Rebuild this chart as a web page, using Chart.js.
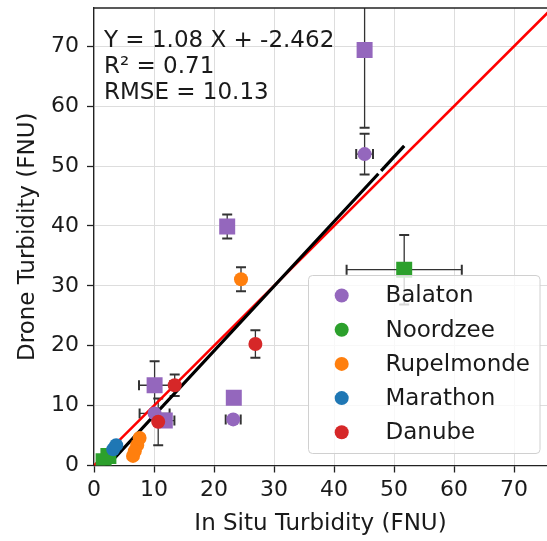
<!DOCTYPE html>
<html>
<head>
<meta charset="utf-8">
<script src="https://cdn.jsdelivr.net/npm/chart.js@4.4.1/dist/chart.umd.min.js"></script>
<style>
  html, body { margin: 0; padding: 0; background: #fff; }
  #wrap { width: 547px; height: 541px; }
</style>
</head>
<body>
<div id="wrap"><canvas id="turbidityChart" width="547" height="541"></canvas></div>
<script>
// Drone vs in situ turbidity, one series per site (x/y err are +/- half widths)
const siteNames = ['Balaton', 'Noordzee', 'Rupelmonde', 'Marathon', 'Danube'];
const siteColors = ['#9467bd', '#2ca02c', '#ff7f0e', '#1f77b4', '#d62728'];

const balatonX = [45.1, 45.1, 22.2, 10.1, 23.3, 23.2, 10.1, 11.8];
const balatonY = [69.4, 52.0, 39.9, 13.4, 11.3, 7.7, 8.7, 7.5];
const balatonXErr = [0, 1.4, 0.6, 2.6, 0, 1.25, 2.5, 1.6];
const balatonYErr = [13, 3.4, 2.0, 4.0, 0, 0.4, 0, 0];
const balatonShape = ['rect', 'circle', 'rect', 'rect', 'rect', 'circle', 'circle', 'rect'];

const noordzeeX = [51.7, 1.6, 2.4];
const noordzeeY = [32.7, 0.7, 1.6];
const noordzeeXErr = [9.6, 0, 0];
const noordzeeYErr = [5.8, 0, 0];
const noordzeeShape = ['rect', 'rect', 'rect'];

const rupelmondeX = [24.5, 7.6, 7.2, 6.8, 6.5];
const rupelmondeY = [31.1, 4.6, 3.4, 2.4, 1.6];
const rupelmondeXErr = [0, 0, 0, 0, 0];
const rupelmondeYErr = [2.0, 0, 0, 0, 0];
const rupelmondeShape = ['circle', 'circle', 'circle', 'circle', 'circle'];

const marathonX = [3.2, 3.7];
const marathonY = [2.7, 3.4];
const marathonXErr = [0, 0];
const marathonYErr = [0, 0];
const marathonShape = ['circle', 'circle'];

const danubeX = [26.9, 13.45, 10.7];
const danubeY = [20.3, 13.4, 7.3];
const danubeXErr = [0, 0, 0];
const danubeYErr = [2.3, 1.8, 3.9];
const danubeShape = ['circle', 'circle', 'circle'];

// fit reported on the figure
const fitSlope = 1.08;
const fitIntercept = -2.462;
const statLines = ['Y = 1.08 X + -2.462', 'R\u00b2 = 0.71', 'RMSE = 10.13'];

const tickValues = [0, 10, 20, 30, 40, 50, 60, 70];
const xMax = 75.5;
const yMax = 76.4;

const sites = [
    { x: balatonX, y: balatonY, xe: balatonXErr, ye: balatonYErr, shape: balatonShape },
    { x: noordzeeX, y: noordzeeY, xe: noordzeeXErr, ye: noordzeeYErr, shape: noordzeeShape },
    { x: rupelmondeX, y: rupelmondeY, xe: rupelmondeXErr, ye: rupelmondeYErr, shape: rupelmondeShape },
    { x: marathonX, y: marathonY, xe: marathonXErr, ye: marathonYErr, shape: marathonShape },
    { x: danubeX, y: danubeY, xe: danubeXErr, ye: danubeYErr, shape: danubeShape }
];

const FONT = "'DejaVu Sans', sans-serif";
const TEXT = '#1a1a1a';
Chart.defaults.font.family = FONT;
Chart.defaults.color = TEXT;

const allX = sites.flatMap(s => s.x);
const fitFrom = Math.min(...allX);
const fitTo = Math.max(...allX);
const fitLine = [fitFrom, fitTo].map(v => ({ x: v, y: fitSlope * v + fitIntercept }));
const oneToOne = [0, Math.max(xMax, yMax)].map(v => ({ x: v, y: v }));

const pointSets = sites.map((s, k) => ({
    label: siteNames[k],
    data: s.x.map((v, i) => ({ x: v, y: s.y[i] })),
    backgroundColor: siteColors[k],
    borderWidth: 0,
    pointStyle: s.shape,
    pointRadius: s.shape.map(p => p === 'rect' ? 11.3 : 7),
    pointHoverRadius: s.shape.map(p => p === 'rect' ? 11.3 : 7),
    order: 10 - k
}));

// error bars, drawn under the markers
const errorBars = {
    id: 'errorBars',
    beforeDatasetsDraw(chart) {
        const { ctx, chartArea: a, scales: { x, y } } = chart;
        const cap = 5;
        ctx.save();
        ctx.beginPath();
        ctx.rect(a.left, a.top, a.right - a.left, a.bottom - a.top);
        ctx.clip();
        ctx.strokeStyle = '#333';
        sites.forEach(s => {
            s.x.forEach((xv, i) => {
                const px = x.getPixelForValue(xv);
                const py = y.getPixelForValue(s.y[i]);
                if (s.ye[i] > 0) {
                    const top = y.getPixelForValue(s.y[i] + s.ye[i]);
                    const bot = y.getPixelForValue(s.y[i] - s.ye[i]);
                    ctx.lineWidth = 1.3;
                    ctx.beginPath(); ctx.moveTo(px, top); ctx.lineTo(px, bot); ctx.stroke();
                    ctx.lineWidth = 2;
                    ctx.beginPath();
                    ctx.moveTo(px - cap, top); ctx.lineTo(px + cap, top);
                    ctx.moveTo(px - cap, bot); ctx.lineTo(px + cap, bot);
                    ctx.stroke();
                }
                if (s.xe[i] > 0) {
                    const l = x.getPixelForValue(xv - s.xe[i]);
                    const r = x.getPixelForValue(xv + s.xe[i]);
                    ctx.lineWidth = 1.3;
                    ctx.beginPath(); ctx.moveTo(l, py); ctx.lineTo(r, py); ctx.stroke();
                    ctx.lineWidth = 2;
                    ctx.beginPath();
                    ctx.moveTo(l, py - cap); ctx.lineTo(l, py + cap);
                    ctx.moveTo(r, py - cap); ctx.lineTo(r, py + cap);
                    ctx.stroke();
                }
            });
        });
        ctx.restore();
    }
};

// stats text, top spine + legend box inside the plot
const overlay = {
    id: 'overlay',
    afterDraw(chart) {
        const { ctx, chartArea: a } = chart;
        ctx.save();
        ctx.strokeStyle = '#222';
        ctx.lineWidth = 1.3;
        ctx.beginPath();
        ctx.moveTo(a.left, a.top);
        ctx.lineTo(a.right, a.top);
        ctx.stroke();

        ctx.font = '23px ' + FONT;
        ctx.fillStyle = TEXT;
        ctx.textAlign = 'left';
        ctx.textBaseline = 'alphabetic';
        statLines.forEach((t, i) => ctx.fillText(t, 104, 46.5 + i * 26.3));

        // legend
        ctx.beginPath();
        ctx.roundRect(308.5, 275.5, 231.5, 178, 4);
        ctx.fillStyle = 'rgba(255,255,255,0.8)';
        ctx.fill();
        ctx.strokeStyle = '#d0d0d0';
        ctx.lineWidth = 1;
        ctx.stroke();
        ctx.textBaseline = 'middle';
        siteNames.forEach((n, i) => {
            const cy = 295.5 + i * 34.2;
            ctx.beginPath();
            ctx.arc(341.7, cy, 7, 0, Math.PI * 2);
            ctx.fillStyle = siteColors[i];
            ctx.fill();
            ctx.fillStyle = TEXT;
            ctx.fillText(n, 385.5, cy + 1);
        });
        ctx.restore();
    }
};

const axisCommon = {
    type: 'linear',
    min: 0,
    afterBuildTicks: s => { s.ticks = tickValues.map(v => ({ value: v })); },
    grid: { color: '#dddddd', lineWidth: 1, tickLength: 7, tickColor: '#222', tickWidth: 1.3 },
    border: { display: true, color: '#222', width: 1.3 },
    ticks: { font: { size: 22 }, color: TEXT }
};

const ctx = document.getElementById('turbidityChart').getContext('2d');
new Chart(ctx, {
    type: 'scatter',
    data: {
        datasets: [
            ...pointSets,
            {
                label: 'fit',
                data: fitLine,
                showLine: true,
                borderColor: '#000',
                borderWidth: 3.2,
                borderDash: [404, 4],
                pointRadius: 0,
                order: 20
            },
            {
                label: '1:1',
                data: oneToOne,
                showLine: true,
                borderColor: '#ff0000',
                borderWidth: 2.5,
                pointRadius: 0,
                order: 21
            }
        ]
    },
    options: {
        responsive: false,
        animation: false,
        layout: { autoPadding: false, padding: { top: 8, right: 0, left: 0, bottom: 0 } },
        plugins: { legend: { display: false }, tooltip: { enabled: false } },
        scales: {
            x: {
                ...axisCommon,
                max: xMax,
                afterFit: s => { s.height = 75.5; s.paddingLeft = 0; s.paddingRight = 0; },
                ticks: { ...axisCommon.ticks, padding: 5, maxRotation: 0 },
                title: { display: true, text: 'In Situ Turbidity (FNU)', font: { size: 23 }, color: TEXT, padding: { top: 0, bottom: 3 } }
            },
            y: {
                ...axisCommon,
                max: yMax,
                afterFit: s => { s.width = 94; s.paddingTop = 0; s.paddingBottom = 0; },
                ticks: { ...axisCommon.ticks, padding: 8 },
                title: { display: true, text: 'Drone Turbidity (FNU)', font: { size: 23 }, color: TEXT, padding: { top: 14, bottom: 0 } }
            }
        }
    },
    plugins: [errorBars, overlay]
});
</script>
</body>
</html>
